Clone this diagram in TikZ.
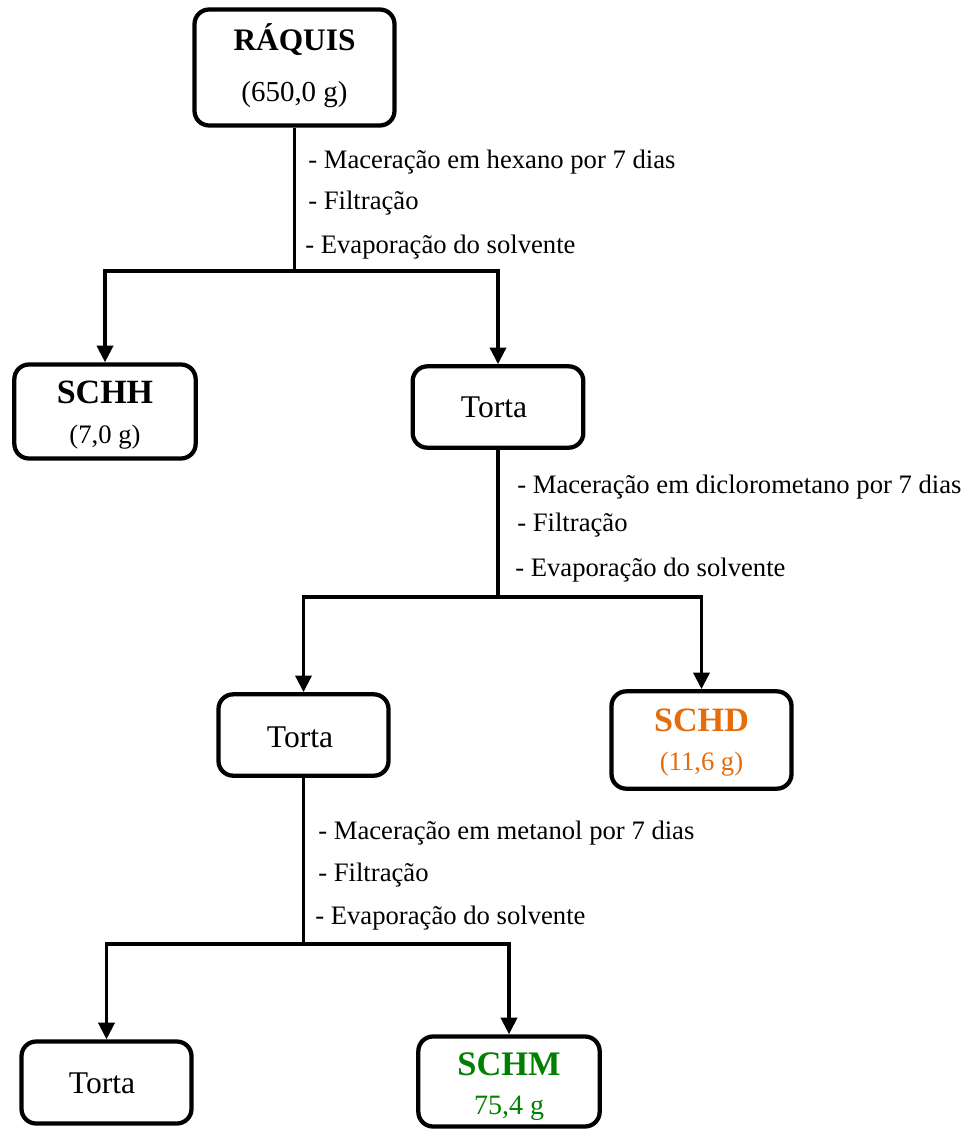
\documentclass[tikz,border=0pt]{standalone}
\usepackage{fontspec}
\setmainfont{Liberation Serif}
\usetikzlibrary{arrows.meta}
\definecolor{schdorange}{RGB}{228,108,10}
\definecolor{schmgreen}{RGB}{0,128,0}
\begin{document}
\begin{tikzpicture}[x=0.75pt,y=-0.75pt,
  box/.style={draw, line width=3.2pt, rounded corners=11pt, inner sep=0pt},
  conn/.style={line width=2.7pt},
  arr/.style={conn, -{Triangle[length=12.5pt,width=12pt]}},
  steptext/.style={anchor=base west, inner sep=0pt, font=\fontsize{20}{24}\selectfont},
  title/.style={anchor=base, inner sep=0pt},
  boxtext/.style={font=\fontsize{23.7}{28}\selectfont}]
\useasboundingbox (0,0) rectangle (972,1130);

% boxes
\node[box, minimum width=150pt, minimum height=87pt] (raquis) at (294.5,67.5) {};
\node[box, minimum width=136pt, minimum height=70.5pt] (schh) at (105,411.5) {};
\node[box, minimum width=128pt, minimum height=61pt] (torta1) at (498,407) {};
\node[box, minimum width=127.5pt, minimum height=61pt] (torta2) at (303.5,735) {};
\node[box, minimum width=135pt, minimum height=73pt] (schd) at (701.5,740) {};
\node[box, minimum width=127.5pt, minimum height=61.5pt] (torta3) at (106.5,1082.5) {};
\node[box, minimum width=136pt, minimum height=67.5pt] (schm) at (509,1081.5) {};

% box contents
\node[title, font=\fontsize{23.5}{28}\selectfont\bfseries] (raquisT) at (294.5,51) {RÁQUIS};
\node[title, font=\fontsize{21.7}{26}\selectfont] (raquisM) at (294.5,102) {(650,0 g)};
\node[title, font=\fontsize{25.5}{30}\selectfont\bfseries] (schhT) at (105,403) {SCHH};
\node[title, font=\fontsize{20}{24}\selectfont] (schhM) at (105,443) {(7,0 g)};
\node[boxtext] (torta1T) at (494,407) {Torta};
\node[boxtext] (torta2T) at (300,737) {Torta};
\node[boxtext] (torta3T) at (102,1083) {Torta};
\node[title, text=schdorange, font=\fontsize{25.6}{30}\selectfont\bfseries] (schdT) at (701.5,731) {SCHD};
\node[title, text=schdorange, font=\fontsize{20}{24}\selectfont] (schdM) at (701.5,770) {(11,6 g)};
\node[title, text=schmgreen, font=\fontsize{25.8}{30}\selectfont\bfseries] (schmT) at (509,1075) {SCHM};
\node[title, text=schmgreen, font=\fontsize{21}{25}\selectfont] (schmM) at (509,1114) {75,4 g};

% branch points
\coordinate (j1) at (294.5,271);
\coordinate (j2) at (498,597);
\coordinate (j3) at (303.5,944);

% connectors
\draw[conn] (raquis.south) -- (j1);
\draw[arr] (j1) -| (schh.north);
\draw[arr] (j1) -| (torta1.north);
\draw[conn] (torta1.south) -- (j2);
\draw[arr] (j2) -| (torta2.north);
\draw[arr] (j2) -| (schd.north);
\draw[conn] (torta2.south) -- (j3);
\draw[arr] (j3) -| (torta3.north);
\draw[arr] (j3) -| (schm.north);

% process steps
\node[steptext] (s11) at (308,169) {- Maceração em hexano por 7 dias};
\node[steptext] (s12) at (308,210) {- Filtração};
\node[steptext] (s13) at (305,254) {- Evaporação do solvente};
\node[steptext] (s21) at (517,493) {- Maceração em diclorometano por 7 dias};
\node[steptext] (s22) at (517,531) {- Filtração};
\node[steptext] (s23) at (515,576) {- Evaporação do solvente};
\node[steptext] (s31) at (318,839) {- Maceração em metanol por 7 dias};
\node[steptext] (s32) at (318,881) {- Filtração};
\node[steptext] (s33) at (315,924) {- Evaporação do solvente};
\end{tikzpicture}
\end{document}
